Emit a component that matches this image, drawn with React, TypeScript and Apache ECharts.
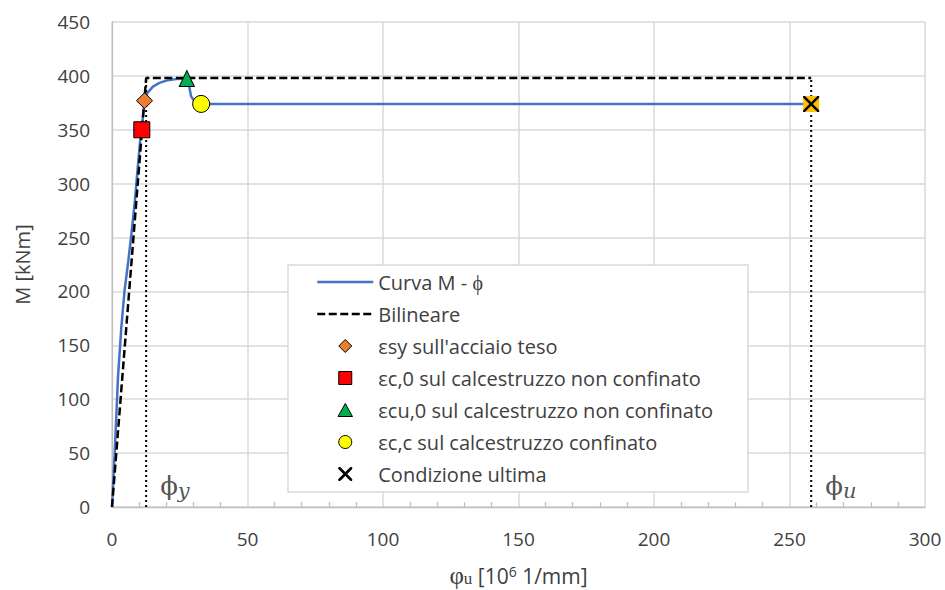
import React, { useEffect, useRef } from "react";
import * as echarts from "echarts";

// Moment-curvature curve (phi in 10^-6 1/mm, M in kNm)
const curvePhi = [0, 1.0, 2.2, 3.4, 4.6, 6.0, 7.2, 8.4, 9.5, 10.4, 11.0, 11.5, 12.0, 13.0, 15.1, 17.5, 20.0, 23.7, 27.6, 28.5, 29.2, 30.5, 32.9, 258];
const curveM = [0, 50, 120, 165, 200, 228, 254, 283, 315, 340, 350, 365, 377, 384, 390, 393.5, 395.6, 397, 397.5, 390, 381, 376, 374, 374];

// Bilinear idealisation
const bilinPhi = [0, 12.6, 258];
const bilinM = [0, 398, 398];

// Yield and ultimate curvatures
const phiY = 12.6;
const phiU = 258;
const mPlateau = 398;

// Characteristic points
const pSteelYield = [12.0, 377];
const pConcrete0 = [11.0, 350];
const pConcreteCu0 = [27.6, 397.5];
const pConfined = [32.9, 374];
const pUltimate = [258, 374];

const legendNames = [
  "Curva M - ϕ",
  "Bilineare",
  "εsy sull'acciaio teso",
  "εc,0 sul calcestruzzo non confinato",
  "εcu,0 sul calcestruzzo non confinato",
  "εc,c sul calcestruzzo confinato",
  "Condizione ultima",
];

const xTicks = { min: 0, max: 300, interval: 50 };
const yTicks = { min: 0, max: 450, interval: 50 };

const FONT = "Open Sans";
const TEXT = "#404040";
const GRID = "#d9d9d9";

const DIAMOND = "path://M10,0 L20,10 L10,20 L0,10 Z";
const SQUARE = "path://M0,0 L20,0 L20,20 L0,20 Z";
const TRIANGLE = "path://M10,0 L20,18 L0,18 Z";
const CROSS =
  "path://M0,0 L2.2,0 L10,7.8 L17.8,0 L20,0 L20,2.2 L12.2,10 L20,17.8 L20,20 L17.8,20 L10,12.2 L2.2,20 L0,20 L0,17.8 L7.8,10 L0,2.2 Z";

const zip = (a: number[], b: number[]) => a.map((v, i) => [v, b[i]]);

export default function App() {
  const ref = useRef<HTMLDivElement>(null);

  useEffect(() => {
    if (!ref.current) return;
    const chart = echarts.init(ref.current, null, { renderer: "svg" });

    const marker = (
      name: string,
      pt: number[],
      symbol: string,
      size: number | number[],
      color: string,
      z = 5,
      borderWidth = 1
    ) => ({
      name,
      type: "scatter",
      data: [pt],
      symbol,
      symbolSize: size,
      symbolKeepAspect: true,
      itemStyle: { color, borderColor: "#000", borderWidth, opacity: 1 },
      z,
    });

    const option: any = {
      animation: false,
      backgroundColor: "#fff",
      grid: { left: 112, right: 20, top: 22, bottom: 83, containLabel: false, outerBoundsMode: "none" },
      xAxis: {
        type: "value",
        ...xTicks,
        name: "{phi|φ}{sub|u}{t| [10}{sup|6}{t| 1/mm]}",
        nameLocation: "middle",
        nameGap: 57,
        nameTextStyle: {
          rich: {
            phi: { fontFamily: "Liberation Serif", fontSize: 25, color: TEXT, lineHeight: 23 },
            sub: { fontFamily: "Liberation Serif", fontSize: 17, color: TEXT, verticalAlign: "bottom", lineHeight: 23 },
            t: { fontFamily: FONT, fontSize: 21, color: TEXT, lineHeight: 23 },
            sup: { fontFamily: FONT, fontSize: 14, color: TEXT, verticalAlign: "top", lineHeight: 23 },
          },
        },
        axisLine: { show: true, lineStyle: { color: "#bfbfbf", width: 1.3 } },
        axisTick: { show: false, inside: true, length: 5 },
        minorTick: { show: true, splitNumber: 5, length: 5, lineStyle: { color: "#bfbfbf", width: 1.3 } },
        axisLabel: { fontFamily: FONT, fontSize: 19, color: TEXT, margin: 22 },
        splitLine: { show: true, lineStyle: { color: GRID, width: 1.5 } },
      },
      yAxis: {
        type: "value",
        ...yTicks,
        name: "M [kNm]",
        nameLocation: "middle",
        nameGap: 80,
        nameTextStyle: { fontFamily: FONT, fontSize: 20, color: TEXT },
        axisLine: { show: true, lineStyle: { color: "#bfbfbf", width: 1.3 } },
        axisTick: { show: false },
        axisLabel: { fontFamily: FONT, fontSize: 19, color: TEXT, margin: 22 },
        splitLine: { show: true, lineStyle: { color: GRID, width: 1.5 } },
      },
      graphic: {
        elements: [
          {
            type: "rect",
            z: 1,
            shape: { x: 288, y: 265, width: 460, height: 227 },
            style: { fill: "#fff", stroke: GRID, lineWidth: 1.5 },
          },
        ],
      },
      legend: {
        orient: "vertical",
        left: 316,
        top: 272,
        padding: 0,
        itemWidth: 56,
        itemHeight: 13,
        itemGap: 12,
        selectedMode: false,
        textStyle: { fontFamily: FONT, fontSize: 20, color: TEXT, lineHeight: 20 },
        itemStyle: { borderWidth: 1 },
        lineStyle: { width: 2.5 },
        data: [
          { name: legendNames[0], itemStyle: { opacity: 0 } },
          { name: legendNames[1], itemStyle: { opacity: 0 } },
          { name: legendNames[2], icon: DIAMOND },
          { name: legendNames[3], icon: SQUARE },
          { name: legendNames[4], icon: TRIANGLE },
          { name: legendNames[5], icon: "circle" },
          { name: legendNames[6], icon: CROSS },
        ],
      },
      series: [
        {
          name: legendNames[0],
          type: "line",
          data: zip(curvePhi, curveM),
          showSymbol: false,
          symbol: "none",
          lineStyle: { color: "#4472C4", width: 2.5 },
          itemStyle: { color: "#4472C4" },
          z: 2,
        },
        {
          name: legendNames[1],
          type: "line",
          data: zip(bilinPhi, bilinM),
          showSymbol: false,
          symbol: "none",
          lineStyle: { color: "#000", width: 2.5, type: [8, 3.5] },
          itemStyle: { color: "#000" },
          z: 3,
        },
        {
          name: "phiY",
          type: "line",
          data: [[phiY, 0], [phiY, mPlateau]],
          showSymbol: false,
          symbol: "none",
          lineStyle: { color: "#000", width: 2, type: [2, 3] },
          z: 3,
        },
        {
          name: "phiU",
          type: "line",
          data: [[phiU, 0], [phiU, mPlateau]],
          showSymbol: false,
          symbol: "none",
          lineStyle: { color: "#000", width: 2, type: [2, 3] },
          z: 3,
        },
        // ultimate point: black cross over a gold square
        marker(legendNames[6], pUltimate, CROSS, 16, "#000", 7, 0),
        marker(legendNames[6], pUltimate, "rect", 16, "#FFC000", 6, 0),
        marker(legendNames[2], pSteelYield, DIAMOND, 16, "#ED7D31"),
        marker(legendNames[3], pConcrete0, SQUARE, 16, "#FF0000"),
        marker(legendNames[4], pConcreteCu0, "triangle", [15, 16], "#00B050"),
        marker(legendNames[5], pConfined, "circle", 17, "#FFFF00"),
        {
          name: "curvature labels",
          type: "scatter",
          symbolSize: 0,
          silent: true,
          z: 4,
          label: {
            show: true,
            position: "right",
            distance: 14,
            offset: [0, -21],
            rich: {
              p: { fontFamily: "DejaVu Serif", fontSize: 26, color: "#262626", lineHeight: 30 },
              s: { fontFamily: "DejaVu Serif", fontStyle: "italic", fontSize: 21, color: "#262626", verticalAlign: "bottom", lineHeight: 30 },
            },
          },
          data: [
            { value: [phiY, 0], label: { formatter: "{p|ϕ}{s|y}" } },
            { value: [phiU, 0], label: { formatter: "{p|ϕ}{s|u}" } },
          ],
        },
      ],
    };

    chart.setOption(option);
    return () => chart.dispose();
  }, []);

  return (
    <div
      ref={ref}
      style={{ position: "fixed", left: 0, top: 0, width: 945, height: 590, background: "#fff" }}
    />
  );
}
